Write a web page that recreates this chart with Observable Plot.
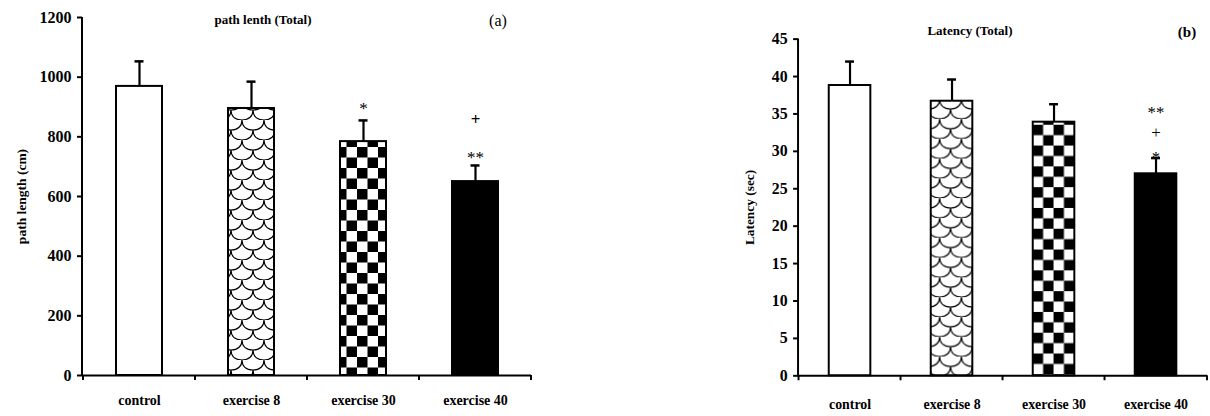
<!DOCTYPE html>
<html>
<head>
<meta charset="utf-8">
<script src="https://cdn.jsdelivr.net/npm/d3@7"></script>
<script src="https://cdn.jsdelivr.net/npm/@observablehq/plot@0.6"></script>
<style>
  html, body { margin: 0; padding: 0; background: #fff; }
  body { width: 1210px; height: 416px; overflow: hidden; position: relative; font-family: "Liberation Serif", "Times New Roman", serif; }
  .chart { position: absolute; top: 0; }
  .lbl { position: absolute; transform: translate(-50%, -50%); white-space: nowrap; color: #000; }
</style>
</head>
<body>
<svg width="0" height="0" style="position:absolute">
  <defs>
    <pattern id="chk" width="21" height="21" patternUnits="userSpaceOnUse">
      <rect width="21" height="21" fill="#fff"/>
      <rect x="0" y="0" width="10.5" height="10.5" fill="#000"/>
      <rect x="10.5" y="10.5" width="10.5" height="10.5" fill="#000"/>
    </pattern>
    <pattern id="wav" width="22" height="20" patternUnits="userSpaceOnUse">
      <rect width="22" height="20" fill="#fff"/>
      <path d="M0,0 C0,6 4,10 11,10 C18,10 22,6 22,0 M-11,10 C-11,16 -7,20 0,20 C7,20 11,16 11,10 M11,10 C11,16 15,20 22,20 C29,20 33,16 33,10" fill="none" stroke="#000" stroke-width="1.2"/>
    </pattern>
  </defs>
</svg>
<div id="a" class="chart" style="left:0px"></div>
<div id="b" class="chart" style="left:700px"></div>
<div class="lbl" style="left:263px;top:20px;font-weight:bold;font-size:13px">path lenth (Total)</div>
<div class="lbl" style="left:498px;top:21px;font-size:16px">(a)</div>
<div class="lbl" style="left:970px;top:31px;font-weight:bold;font-size:13px">Latency (Total)</div>
<div class="lbl" style="left:1187px;top:32px;font-weight:bold;font-size:15px">(b)</div>
<script>
// ---- data ----
const categories = ["control", "exercise 8", "exercise 30", "exercise 40"];
const fills = ["#fff", "url(#wav)", "url(#chk)", "#000"];

const pathLength = [969, 895, 784, 650];
const pathLengthSE = [84, 90, 71, 54];
const pathTicks = [0, 200, 400, 600, 800, 1000, 1200];

const latency = [38.8, 36.7, 33.9, 27.0];
const latencySE = [3.2, 2.9, 2.4, 2.1];
const latencyTicks = [0, 5, 10, 15, 20, 25, 30, 35, 40, 45];

// significance marks: [category, label, weight]
const marksA = [["exercise 30", "*", "normal"], ["exercise 40", "**", "normal"], ["exercise 40", "+", "bold"]];
const marksB = [["exercise 40", "*", "normal"], ["exercise 40", "+", "normal"], ["exercise 40", "**", "normal"]];

function styleGroup(svg, re, size) {
  svg.selectAll("g").filter(function() { return re.test(this.getAttribute("aria-label") || ""); })
    .selectAll("text")
    .style("font-weight", "bold").style("fill", "#000")
    .style("font-family", "'Liberation Serif', serif").style("font-size", size + "px");
}

function build({values, se, ticks, ymax, ylabel, width, margins, labelOffset, xLabelPad, sig, sigDy, capInset}) {
  const rows = categories.map((c, i) => ({cat: c, v: values[i], top: values[i] + se[i], fill: fills[i]}));
  const topOf = Object.fromEntries(rows.map(r => [r.cat, r.top]));
  const font = "Liberation Serif";
  const chart = Plot.plot({
    width, height: 416,
    ...margins,
    style: {fontFamily: font, fontSize: "14px", color: "#000", background: "transparent", overflow: "visible"},
    x: {domain: categories, paddingInner: 0.59, paddingOuter: 0.295},
    y: {domain: [0, ymax]},
    marks: [
      ...rows.map(r => Plot.barY([r], {x: "cat", y: "v", fill: r.fill, stroke: "#000", strokeWidth: 2})),
      Plot.ruleX(rows, {x: "cat", y1: "v", y2: "top", stroke: "#000", strokeWidth: 2.2}),
      Plot.tickY(rows, {x: "cat", y: "top", stroke: "#000", strokeWidth: 2.5, insetLeft: capInset, insetRight: capInset}),
      Plot.ruleY([0], {stroke: "#000", strokeWidth: 2}),
      Plot.axisY({ticks, tickFormat: d => String(d), tickSize: 5, tickPadding: 6, strokeWidth: 2, stroke: "#000",
        label: ylabel, labelAnchor: "center", labelArrow: "none", labelOffset}),
      Plot.axisX({tickSize: 0, tickPadding: xLabelPad, label: null}),
      ...sig.map(([c, t, w], k) => Plot.text([{cat: c, top: topOf[c]}], {x: "cat", y: "top", text: () => t,
        dy: sigDy[k], fontWeight: w, fontSize: 17, fontFamily: font, fill: "#000"}))
    ]
  });
  const svg = d3.select(chart);
  styleGroup(svg, /^y-axis tick label$/, 16);
  styleGroup(svg, /^x-axis tick label$/, 14);
  styleGroup(svg, /^y-axis label$/, 13.5);
  // y-axis line and category boundary ticks, from the chart's own scales
  const xs = chart.scale("x"), ys = chart.scale("y");
  const x0 = xs.range[0], y0 = ys.apply(0);
  svg.append("line").attr("x1", x0).attr("x2", x0).attr("y1", y0 + 1).attr("y2", ys.apply(ymax))
    .attr("stroke", "#000").attr("stroke-width", 2);
  const bounds = categories.map(c => xs.apply(c) - (xs.step - xs.bandwidth) / 2).concat([xs.range[1]]);
  bounds.forEach(bx => svg.append("line").attr("x1", bx).attr("x2", bx).attr("y1", y0).attr("y2", y0 + 5)
    .attr("stroke", "#000").attr("stroke-width", 2));
  return chart;
}

document.getElementById("a").append(build({
  values: pathLength, se: pathLengthSE, ticks: pathTicks, ymax: 1200, ylabel: "path length (cm)",
  width: 560, margins: {marginLeft: 82, marginRight: 29, marginTop: 17, marginBottom: 41},
  labelOffset: 66, xLabelPad: 20, capInset: 18.5,
  sig: marksA, sigDy: [-12, -8, -46]
}));
document.getElementById("b").append(build({
  values: latency, se: latencySE, ticks: latencyTicks, ymax: 45, ylabel: "Latency (sec)",
  width: 515, margins: {marginLeft: 99, marginRight: 3, marginTop: 39, marginBottom: 37},
  labelOffset: 55, xLabelPad: 24, capInset: 16.5,
  sig: marksB, sigDy: [0, -26, -46]
}));
</script>
</body>
</html>
